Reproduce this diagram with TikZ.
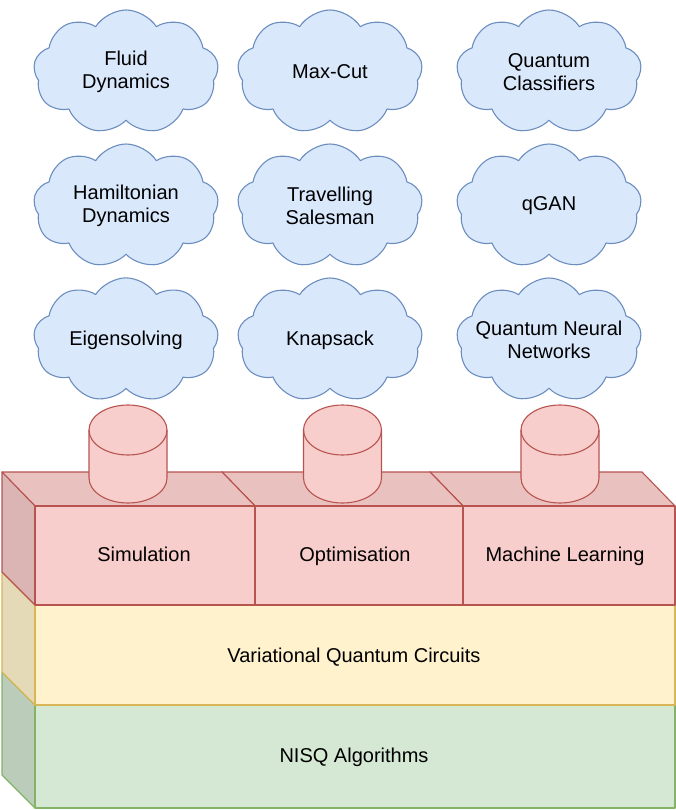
\documentclass[tikz,border=0pt]{standalone}
\usepackage{fontspec}
\setmainfont{Liberation Sans}
\usepackage{xcolor}
\usetikzlibrary{positioning}
\usetikzlibrary{shapes.symbols}

\definecolor{cloudfill}{HTML}{DAE8FC}
\definecolor{cloudline}{HTML}{6C8EBF}
\definecolor{pinkfill}{HTML}{F8CECC}
\definecolor{pinkline}{HTML}{B85450}
\definecolor{yellowfill}{HTML}{FFF2CC}
\definecolor{yellowline}{HTML}{D6B656}
\definecolor{greenfill}{HTML}{D5E8D4}
\definecolor{greenline}{HTML}{82B366}

\begin{document}
\begin{tikzpicture}[x=1pt,y=1pt,node distance=134pt,line width=1.1pt,line join=round,
                    cloud node/.style={cloud,cloud puffs=9,cloud puff arc=115,aspect=1.6,draw=cloudline,fill=cloudfill,
                      minimum width=185pt,minimum height=124pt,inner sep=0pt,align=center,font=\fontsize{20}{23}\selectfont},
                    label node/.style={font=\fontsize{20}{23}\selectfont,text height=15pt,text depth=4pt},
                    pink face/.style={draw=pinkline,fill=pinkfill},
                    yellow face/.style={draw=yellowline,fill=yellowfill},
                    green face/.style={draw=greenline,fill=greenfill}]
\useasboundingbox (0,0) rectangle (676,-810);

% applications
\node[cloud node] (fluid) at (126,-72) {Fluid\\Dynamics};
\node[cloud node] (maxcut) at (330,-72) {Max-Cut};
\node[cloud node] (classifiers) at (549,-72) {Quantum\\Classifiers};
\node[cloud node] (hamiltonian) [below of=fluid] {Hamiltonian\\Dynamics};
\node[cloud node] (salesman) [below of=maxcut] {Travelling\\Salesman};
\node[cloud node] (qgan) [below of=classifiers] {qGAN};
\node[cloud node] (eigen) [below of=hamiltonian] {Eigensolving};
\node[cloud node] (knapsack) [below of=salesman] {Knapsack};
\node[cloud node] (qnn) [below of=qgan] {\makebox[110pt]{Quantum Neural}\\Networks};

% NISQ layer
\draw[green face,fill=greenfill!88!black] (2,-672) -- (35,-705) -- (35,-808) -- (2,-775) -- cycle;
\draw[green face] (35,-705) rectangle (675,-808);
% circuits layer
\draw[yellow face,fill=yellowfill!90!black] (2,-572) -- (35,-605) -- (35,-705) -- (2,-672) -- cycle;
\draw[yellow face] (35,-605) rectangle (675,-705);
% three pink blocks
\foreach \bl/\br/\fl/\fr in {430/642/463/675, 222/430/255/463, 2/222/35/255} {
  \draw[pink face,fill=pinkfill!94!black] (\bl,-472) -- (\br,-472) -- (\fr,-506) -- (\fl,-506) -- cycle;
  \draw[pink face,fill=pinkfill!88!black] (\bl,-472) -- (\fl,-506) -- (\fl,-605) -- (\bl,-572) -- cycle;
  \draw[pink face] (\fl,-506) rectangle (\fr,-605);
}
% cylinders
\foreach \cx in {128,342.5,560} {
  \draw[pink face] (\cx-39,-430) -- (\cx-39,-478) arc[start angle=180,end angle=360,x radius=39,y radius=25]
    -- (\cx+39,-430) arc[start angle=0,end angle=180,x radius=39,y radius=25] -- cycle;
  \draw[pinkline] (\cx-39,-430) arc[start angle=180,end angle=360,x radius=39,y radius=25];
}

\node[label node] (simulation) at (144,-556) {Simulation};
\node[label node] (optimisation) at (355,-556) {Optimisation};
\node[label node] (learning) at (565,-556) {Machine Learning};
\node[label node] (circuits) at (354,-657) {Variational Quantum Circuits};
\node[label node] (nisq) at (354,-757) {NISQ Algorithms};

\end{tikzpicture}
\end{document}
